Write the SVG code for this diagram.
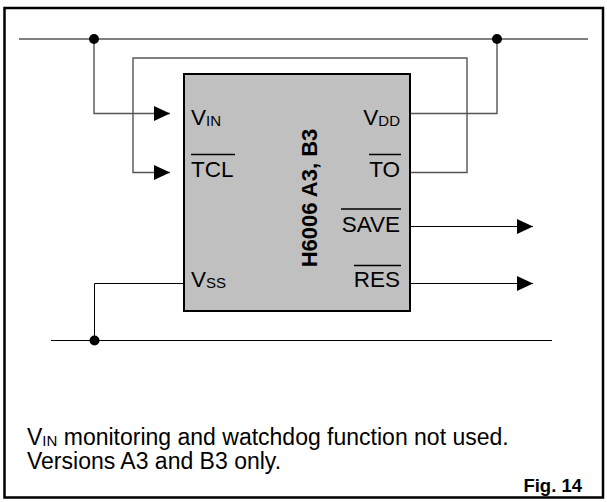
<svg xmlns="http://www.w3.org/2000/svg" width="607" height="502" viewBox="0 0 607 502">
  <defs>
    <marker id="arr" markerUnits="userSpaceOnUse" markerWidth="16" markerHeight="16" viewBox="0 0 15 14" refX="15" refY="7" orient="auto">
      <polygon points="0,0 15,7 0,14" fill="#000"/>
    </marker>
  </defs>
  <style>
    .w { fill: none; stroke: #000; stroke-width: 1; }
    .wg { fill: none; stroke: #555; stroke-width: 1.4; }
    .dot { fill: #000; }
    .pin { font-family: "Liberation Sans", Arial, sans-serif; font-size: 22.5px; fill: #000; }
    .sub { font-size: 15px; }
    .ov { stroke: #000; stroke-width: 1.5; }
    .note { font-family: "Liberation Sans", Arial, sans-serif; font-size: 23px; fill: #000; }
    .fig { font-family: "Liberation Sans", Arial, sans-serif; font-size: 18.5px; font-weight: bold; fill: #000; }
    .chip { font-family: "Liberation Sans", Arial, sans-serif; font-size: 22px; font-weight: bold; fill: #000; }
  </style>
  <rect x="0" y="0" width="607" height="502" fill="#fff"/>
  <rect id="frame" x="4.5" y="8" width="598.5" height="489.5" fill="none" stroke="#000" stroke-width="2.5"/>

  <g id="connectors">
    <line class="wg" x1="19" y1="39" x2="588" y2="39"/>
    <polyline class="wg" points="94,39 94,113.5 170,113.5" marker-end="url(#arr)"/>
    <polyline class="wg" points="497,39 497,113.5 410,113.5"/>
    <polyline class="wg" points="410,172.5 467,172.5 467,58 133,58 133,172.5 170,172.5" marker-end="url(#arr)"/>
    <polyline class="w" points="410,226.5 533,226.5" marker-end="url(#arr)"/>
    <polyline class="w" points="410,283.5 533,283.5" marker-end="url(#arr)"/>
    <polyline class="w" points="184,283.5 94.5,283.5 94.5,340"/>
    <line class="w" x1="51" y1="340.5" x2="552" y2="340.5"/>
    <circle class="dot" cx="94" cy="39" r="5"/>
    <circle class="dot" cx="497" cy="39" r="5"/>
    <circle class="dot" cx="94.5" cy="340.5" r="5"/>
  </g>

  <g id="chip">
    <rect x="184" y="74" width="226" height="237" fill="#c0c0c0" stroke="#000" stroke-width="2"/>
    <text class="chip" transform="translate(316.5,198) rotate(-90)" text-anchor="middle">H6006 A3, B3</text>
    <text class="pin" x="191" y="125">V<tspan class="sub" dy="1">IN</tspan></text>
    <text class="pin" x="191" y="177">TCL</text>
    <line class="ov" x1="191" y1="154.5" x2="235" y2="154.5"/>
    <text class="pin" x="191" y="287">V<tspan class="sub" dy="1">SS</tspan></text>
    <text class="pin" x="400" y="125" text-anchor="end">V<tspan class="sub" dy="1">DD</tspan></text>
    <text class="pin" x="400" y="177" text-anchor="end">TO</text>
    <line class="ov" x1="369" y1="154.5" x2="401" y2="154.5"/>
    <text class="pin" x="400" y="232" text-anchor="end">SAVE</text>
    <line class="ov" x1="341" y1="209" x2="401" y2="209"/>
    <text class="pin" x="400" y="287" text-anchor="end">RES</text>
    <line class="ov" x1="354" y1="265.5" x2="401" y2="265.5"/>
  </g>

  <g id="notes">
    <text class="note" x="27" y="445">V<tspan font-size="15" dy="1">IN</tspan><tspan dy="-1"> monitoring and watchdog function not used.</tspan></text>
    <text class="note" x="27" y="469">Versions A3 and B3 only.</text>
    <text class="fig" x="582" y="492" text-anchor="end">Fig. 14</text>
  </g>
</svg>
